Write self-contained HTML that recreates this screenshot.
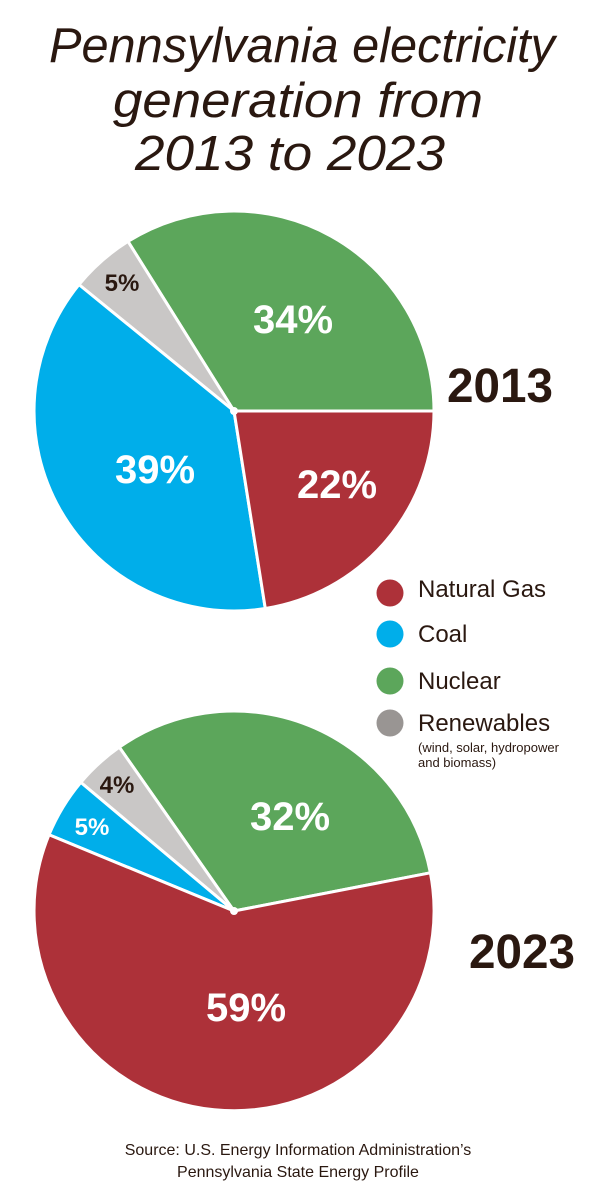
<!DOCTYPE html>
<html><head><meta charset="utf-8"><style>
html,body{margin:0;padding:0;background:#fff;}
svg{display:block;}
</style></head><body>
<svg width="600" height="1200" viewBox="0 0 600 1200" xmlns="http://www.w3.org/2000/svg">
<g font-family="Liberation Sans, sans-serif" fill="#2a1810" font-style="italic" font-size="49" text-anchor="middle">
<text x="302" y="62" textLength="506" lengthAdjust="spacingAndGlyphs">Pennsylvania electricity</text>
<text x="298" y="117" textLength="370" lengthAdjust="spacingAndGlyphs">generation from</text>
<text x="290" y="170" textLength="310" lengthAdjust="spacingAndGlyphs">2013 to 2023</text>
</g>
<g stroke="#fff" stroke-width="3" stroke-linejoin="round">
<path d="M234,411 L434,411 A200,200 0 0 0 128,241.4 Z" fill="#5ca65b"/>
<path d="M234,411 L128,241.4 A200,200 0 0 0 79,284.6 Z" fill="#c9c7c6"/>
<path d="M234,411 L79,284.6 A200,200 0 0 0 265.3,608.5 Z" fill="#00aeea"/>
<path d="M234,411 L265.3,608.5 A200,200 0 0 0 434,411 Z" fill="#ad3139"/>
<path d="M234,911 L430.4,872.8 A200,200 0 0 0 119.3,747.2 Z" fill="#5ca65b"/>
<path d="M234,911 L119.3,747.2 A200,200 0 0 0 80.8,782.4 Z" fill="#c9c7c6"/>
<path d="M234,911 L80.8,782.4 A200,200 0 0 0 49,834.8 Z" fill="#00aeea"/>
<path d="M234,911 L49,834.8 A200,200 0 1 0 430.4,872.8 Z" fill="#ad3139"/>
</g>
<circle cx="234" cy="411" r="4" fill="#fff"/>
<circle cx="234" cy="911" r="4" fill="#fff"/>
<g font-family="Liberation Sans, sans-serif" font-weight="bold" text-anchor="middle" fill="#fff" font-size="40">
<text x="293" y="333">34%</text>
<text x="155" y="483">39%</text>
<text x="337" y="498">22%</text>
<text x="290" y="830">32%</text>
<text x="246" y="1021">59%</text>
<text x="92" y="835" font-size="24">5%</text>
<text x="122" y="291" font-size="24" fill="#2a1810">5%</text>
<text x="117" y="793" font-size="24" fill="#2a1810">4%</text>
</g>
<g font-family="Liberation Sans, sans-serif" font-weight="bold" text-anchor="middle" fill="#2a1810" font-size="48">
<text x="500" y="402" textLength="106" lengthAdjust="spacingAndGlyphs">2013</text>
<text x="522" y="968" textLength="106" lengthAdjust="spacingAndGlyphs">2023</text>
</g>
<circle cx="390" cy="593" r="13.5" fill="#ad3139"/>
<circle cx="390" cy="634" r="13.5" fill="#00aeea"/>
<circle cx="390" cy="681" r="13.5" fill="#5ca65b"/>
<circle cx="390" cy="723" r="13.5" fill="#999593"/>
<g font-family="Liberation Sans, sans-serif" fill="#2a1810" font-size="24">
<text x="418" y="597">Natural Gas</text>
<text x="418" y="642">Coal</text>
<text x="418" y="689">Nuclear</text>
<text x="418" y="731">Renewables</text>
<text x="418" y="752" font-size="13">(wind, solar, hydropower</text>
<text x="418" y="767" font-size="13">and biomass)</text>
</g>
<g font-family="Liberation Sans, sans-serif" fill="#2a1810" font-size="16" text-anchor="middle">
<text x="298" y="1155">Source: U.S. Energy Information Administration’s</text>
<text x="298" y="1177">Pennsylvania State Energy Profile</text>
</g>
</svg>
</body></html>
